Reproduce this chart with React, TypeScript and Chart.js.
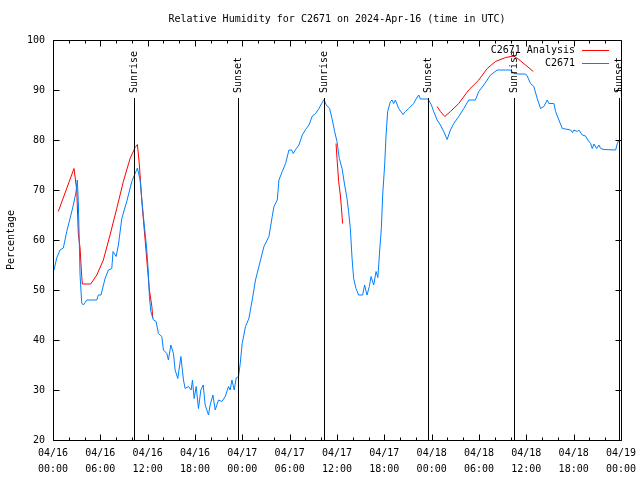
import React, { useEffect, useRef } from "react";
import { Chart, registerables } from "chart.js";

Chart.register(...registerables);

const TITLE = "Relative Humidity for C2671 on 2024-Apr-16 (time in UTC)";
const Y_TITLE = "Percentage";
const FONT = "DejaVu Sans Mono";

// x: hours since 04/16 00:00 UTC
const X_MIN = 0;
const X_MAX = 72;
const Y_MIN = 20;
const Y_MAX = 100;
const xTickDates = ["04/16", "04/16", "04/16", "04/16", "04/17", "04/17", "04/17", "04/17", "04/18", "04/18", "04/18", "04/18", "04/19"];
const xTickTimes = ["00:00", "06:00", "12:00", "18:00", "00:00", "06:00", "12:00", "18:00", "00:00", "06:00", "12:00", "18:00", "00:00"];

const eventHours = [10.28, 23.48, 34.39, 47.59, 58.38, 71.74];
const eventNames = ["Sunrise", "Sunset", "Sunrise", "Sunset", "Sunrise", "Sunset"];

const seriesNames = ["C2671 Analysis", "C2671"];
const seriesColors = ["#ff0000", "#0080ff"];

// Observed station humidity
const stationHours = [
  0.13, 0.47, 0.89, 1.31, 1.74, 2.16, 2.58, 2.92, 3.08, 3.21, 3.43, 3.64, 3.85, 4.28, 5.55, 5.75, 6.09, 6.6, 7.02, 7.45,
  7.61, 8.0, 8.29, 8.72, 9.35, 9.99, 10.41, 10.7, 11.04, 11.46, 11.89, 12.09, 12.22, 12.4, 12.73, 13.07, 13.36, 13.79, 14.0, 14.43,
  14.63, 14.94, 15.27, 15.48, 15.82, 16.21, 16.54, 16.75, 17.17, 17.51, 17.68, 17.89, 18.15, 18.44, 18.74, 19.04, 19.29, 19.71, 19.92, 20.27,
  20.56, 20.98, 21.41, 21.83, 22.25, 22.46, 22.68, 22.97, 23.22, 23.52, 23.73, 23.98, 24.4, 24.83, 25.25, 25.67, 26.1, 26.74, 27.37, 27.79,
  28.01, 28.43, 28.64, 29.06, 29.48, 29.91, 30.24, 30.46, 30.75, 31.18, 31.6, 32.02, 32.45, 32.87, 33.29, 33.72, 34.05, 34.35, 34.64, 35.06,
  35.37, 35.7, 36.0, 36.29, 36.64, 36.97, 37.27, 37.47, 37.69, 37.91, 38.11, 38.41, 38.74, 39.25, 39.5, 39.81, 40.1, 40.32, 40.65, 40.95,
  41.18, 41.37, 41.62, 41.79, 42.04, 42.22, 42.42, 42.77, 42.98, 43.19, 43.4, 43.82, 44.38, 44.67, 45.09, 45.72, 45.94, 46.36, 46.57, 47.55,
  47.97, 48.26, 48.69, 49.11, 49.53, 49.96, 50.38, 50.8, 51.43, 52.07, 52.7, 53.55, 53.97, 54.61, 55.46, 56.31, 57.36, 57.99, 58.41, 59.05,
  59.9, 60.11, 60.53, 60.95, 61.38, 61.8, 62.22, 62.65, 62.86, 63.49, 63.71, 64.13, 64.56, 64.97, 65.61, 65.86, 66.03, 66.46, 66.66, 67.09,
  67.51, 67.8, 68.15, 68.36, 68.57, 68.91, 69.2, 69.42, 69.84, 71.32, 71.54, 71.74,
];
const stationValues = [
  54, 56.4, 58, 58.4, 61.7, 64.3, 67, 69.6, 72, 67.7, 53, 47.4, 47, 48, 48, 49, 49, 52.3, 54, 54.3,
  57.7, 56.7, 59, 64.3, 67.7, 71.7, 73.3, 74.4, 72, 64.7, 58, 53.3, 48.7, 45.7, 44, 43.7, 41.3, 40.7, 38, 37.3,
  36, 39, 37.3, 34, 32.3, 36.7, 32, 30.3, 30.7, 30, 32, 28.3, 30.7, 26.3, 30, 31, 27, 25, 27, 29,
  26, 28, 27.7, 28.7, 30.7, 30, 32, 30, 32.4, 32.7, 35.3, 39.3, 42.7, 44.3, 48, 52, 54.7, 58.7, 60.7, 64.7,
  66.7, 68, 72, 73.7, 75.3, 78, 78, 77.3, 78.1, 79, 81, 82.1, 83, 84.8, 85.3, 86.3, 87.3, 88.1, 87, 86.3,
  84.3, 81.7, 79.7, 76.3, 74.3, 71, 68.3, 65.7, 62.3, 56.3, 52.3, 50.3, 49, 49, 51, 49, 50.7, 52.7, 51, 53.7,
  52.5, 57, 62.3, 69, 75, 81, 85.7, 87.7, 88, 87.3, 88, 86.3, 85.1, 85.7, 86.3, 87.3, 88, 89, 88.2, 88.2,
  87, 85.7, 84, 83, 81.7, 80.1, 82, 83.3, 84.7, 86.3, 88, 88, 89.7, 91, 93, 94, 94, 94, 93.3, 93.2,
  93.2, 92.8, 91.3, 90.7, 88.3, 86.3, 86.7, 88, 87.3, 87.3, 85.7, 84, 82.3, 82.2, 82, 81.5, 82, 81.7, 82, 81,
  80.8, 80, 79.3, 78.3, 79.2, 78.3, 79, 78.3, 78.1, 78, 79.3, 80,
];

// Analysis humidity (null = gap between analysis runs)
const analysisHours = [
  0.67, 2.66, 3.01, 3.21, 3.43, 3.64, 3.72, 4.78, 5.55, 6.38, 7.23, 8.08, 8.92, 9.77, 10.41, 10.7, 10.95, 11.26, 11.68, 11.89, 12.22, 12.53, 12.65,
  24,
  35.88, 36.0, 36.21, 36.42, 36.55, 36.71,
  42,
  48.69, 49.11, 49.66, 50.38, 51.43, 52.7, 53.97, 55.04, 56.09, 57.36, 58.41, 59.05, 59.9, 60.88,
];
const analysisValues = [
  65.7, 74.3, 70, 61.3, 58.4, 52.7, 51.2, 51.2, 53, 56, 61, 66.3, 71.7, 76.3, 78.5, 79.1, 75, 67.7, 60, 56, 50, 46.7, 44.4,
  null,
  79.3, 76.3, 71.7, 69, 66.7, 63.3,
  null,
  86.7, 85.7, 84.7, 85.7, 87.3, 90, 92, 94.3, 95.7, 96.5, 96.8, 96.1, 95, 93.7,
];

const EVENT_LINE_TOP = 88.5;
const EVENT_LABEL_END = 89.4;

const decorPlugin = {
  id: "gnuplotDecor",
  beforeDraw(chart: any) {
    const { ctx, width, height } = chart;
    ctx.save();
    ctx.fillStyle = "#ffffff";
    ctx.fillRect(0, 0, width, height);
    ctx.restore();
  },
  afterDatasetsDraw(chart: any) {
    const { ctx, chartArea: a, scales } = chart;
    const x = scales.x;
    const y = scales.y;
    ctx.save();
    ctx.strokeStyle = "#000";
    ctx.fillStyle = "#000";
    ctx.lineWidth = 1;
    ctx.font = `10px "${FONT}"`;

    // sunrise / sunset markers
    eventHours.forEach((h, i) => {
      const px = Math.round(x.getPixelForValue(h)) + 0.5;
      ctx.beginPath();
      ctx.moveTo(px, Math.round(y.getPixelForValue(EVENT_LINE_TOP)));
      ctx.lineTo(px, a.bottom);
      ctx.stroke();
      ctx.save();
      ctx.translate(px, y.getPixelForValue(EVENT_LABEL_END));
      ctx.rotate(-Math.PI / 2);
      ctx.textAlign = "left";
      ctx.textBaseline = "middle";
      ctx.fillText(eventNames[i], 0, 0);
      ctx.restore();
    });

    // frame
    const L = Math.round(a.left) + 0.5;
    const R = Math.round(a.right) + 0.5;
    const T = Math.round(a.top) + 0.5;
    const B = Math.round(a.bottom) + 0.5;
    ctx.beginPath();
    ctx.rect(L, T, R - L, B - T);
    ctx.stroke();

    // inward ticks
    ctx.beginPath();
    for (let h = X_MIN; h <= X_MAX; h += 2) {
      const px = Math.round(x.getPixelForValue(h)) + 0.5;
      const len = h % 6 === 0 ? 6 : 3;
      ctx.moveTo(px, B);
      ctx.lineTo(px, B - len);
      ctx.moveTo(px, T);
      ctx.lineTo(px, T + len);
    }
    for (let v = Y_MIN; v <= Y_MAX; v += 10) {
      const py = Math.round(y.getPixelForValue(v)) + 0.5;
      ctx.moveTo(L, py);
      ctx.lineTo(L + 6, py);
      ctx.moveTo(R, py);
      ctx.lineTo(R - 6, py);
    }
    ctx.stroke();

    // title
    ctx.textAlign = "center";
    ctx.textBaseline = "middle";
    ctx.fillText(TITLE, (a.left + a.right) / 2, a.top - 21);

    // y title
    ctx.save();
    ctx.translate(11, (a.top + a.bottom) / 2);
    ctx.rotate(-Math.PI / 2);
    ctx.fillText(Y_TITLE, 0, 0);
    ctx.restore();

    // legend (gnuplot style, top right inside)
    seriesNames.forEach((name, i) => {
      const ly = a.top + 10.5 + i * 13;
      ctx.textAlign = "right";
      ctx.fillStyle = "#000";
      ctx.fillText(name, a.right - 46, ly);
      ctx.strokeStyle = seriesColors[i];
      ctx.beginPath();
      ctx.moveTo(a.right - 39, Math.round(ly) - 0.5);
      ctx.lineTo(a.right - 12, Math.round(ly) - 0.5);
      ctx.stroke();
    });
    ctx.restore();
  },
};

export default function App() {
  const ref = useRef<HTMLCanvasElement>(null);

  useEffect(() => {
    const analysisData = analysisHours.map((h, i) => ({ x: h, y: analysisValues[i] }));
    const stationData = stationHours.map((h, i) => ({ x: h, y: stationValues[i] }));
    const tickFont = { family: FONT, size: 10, lineHeight: 1.6 };
    const chart = new Chart(ref.current as HTMLCanvasElement, {
      type: "line",
      data: {
        datasets: [
          {
            label: seriesNames[0],
            data: analysisData as any,
            borderColor: seriesColors[0],
            borderWidth: 1,
            pointRadius: 0,
            tension: 0,
            spanGaps: false,
            order: 2,
          },
          {
            label: seriesNames[1],
            data: stationData as any,
            borderColor: seriesColors[1],
            borderWidth: 1,
            pointRadius: 0,
            tension: 0,
            order: 1,
          },
        ],
      },
      options: {
        animation: false,
        responsive: false,
        devicePixelRatio: 1,
        layout: { padding: { top: 40, right: 19, bottom: 0, left: 0 } },
        plugins: {
          legend: { display: false },
          tooltip: { enabled: false },
          title: { display: false },
        },
        scales: {
          x: {
            type: "linear",
            position: "bottom",
            min: X_MIN,
            max: X_MAX,
            grid: { display: false, drawTicks: false },
            border: { display: false },
            ticks: {
              stepSize: 6,
              autoSkip: false,
              maxRotation: 0,
              minRotation: 0,
              padding: 5,
              color: "#000",
              font: tickFont,
              callback: (v: any) => {
                const i = Math.round(Number(v) / 6);
                return [xTickDates[i], xTickTimes[i]];
              },
            },
            afterFit: (s: any) => {
              s.height = 40;
              s.paddingLeft = 0;
              s.paddingRight = 0;
            },
          },
          y: {
            type: "linear",
            min: Y_MIN,
            max: Y_MAX,
            grid: { display: false, drawTicks: false },
            border: { display: false },
            ticks: {
              stepSize: 10,
              padding: 8,
              color: "#000",
              font: { family: FONT, size: 10 },
            },
            afterFit: (s: any) => {
              s.width = 53;
              s.paddingTop = 0;
              s.paddingBottom = 0;
            },
          },
        },
      },
      plugins: [decorPlugin],
    });
    return () => chart.destroy();
  }, []);

  return (
    <div style={{ position: "fixed", left: 0, top: 0, width: 640, height: 480, background: "#fff" }}>
      <canvas ref={ref} width={640} height={480} style={{ display: "block", width: 640, height: 480 }} />
    </div>
  );
}
